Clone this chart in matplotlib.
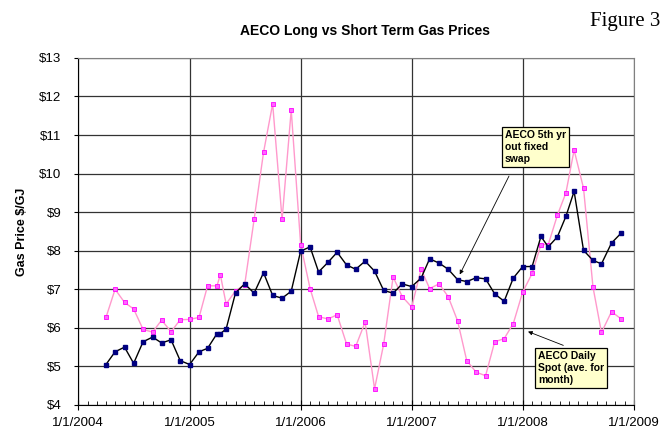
import matplotlib
matplotlib.use('Agg')
import matplotlib.pyplot as plt
import matplotlib.dates as mdates
from matplotlib.ticker import FuncFormatter, MultipleLocator
import pandas as pd

plt.rcParams['font.family'] = ['Liberation Sans', 'DejaVu Sans']

# AECO 5th yr out fixed swap (black line)
swap_dates = ["2004-04-01", "2004-05-01", "2004-06-01", "2004-07-01", "2004-08-01",
              "2004-09-01", "2004-10-01", "2004-11-01", "2004-12-01", "2005-01-01",
              "2005-02-01", "2005-03-01", "2005-04-01", "2005-04-12", "2005-05-01",
              "2005-06-01", "2005-07-01", "2005-08-01", "2005-09-01", "2005-10-01",
              "2005-11-01", "2005-12-01", "2006-01-01", "2006-02-01", "2006-03-01",
              "2006-04-01", "2006-05-01", "2006-06-01", "2006-07-01", "2006-08-01",
              "2006-09-01", "2006-10-01", "2006-11-01", "2006-12-01", "2007-01-01",
              "2007-02-01", "2007-03-01", "2007-04-01", "2007-05-01", "2007-06-01",
              "2007-07-01", "2007-08-01", "2007-09-01", "2007-10-01", "2007-11-01",
              "2007-12-01", "2008-01-01", "2008-02-01", "2008-03-01", "2008-03-25",
              "2008-04-24", "2008-05-22", "2008-06-18", "2008-07-19", "2008-08-19",
              "2008-09-16", "2008-10-19", "2008-11-20"]
swap_prices = [5.05, 5.38, 5.50, 5.08, 5.64, 5.76, 5.61, 5.69, 5.15, 5.05,
               5.38, 5.47, 5.85, 5.85, 5.97, 6.91, 7.14, 6.90, 7.43, 6.84,
               6.77, 6.95, 7.99, 8.10, 7.45, 7.70, 7.96, 7.63, 7.52, 7.73,
               7.47, 6.97, 6.90, 7.14, 7.07, 7.29, 7.79, 7.68, 7.52, 7.25,
               7.20, 7.30, 7.27, 6.88, 6.69, 7.29, 7.59, 7.59, 8.37, 8.10,
               8.36, 8.89, 9.54, 8.01, 7.75, 7.66, 8.20, 8.46]

# AECO daily spot, monthly average (pink line)
spot_dates = swap_dates
spot_prices = [6.27, 7.00, 6.66, 6.49, 5.96, 5.89, 6.20, 5.90, 6.21, 6.22,
               6.27, 7.09, 7.09, 7.38, 6.62, 6.96, 7.12, 8.81, 10.55, 11.81,
               8.81, 11.65, 8.16, 7.02, 6.29, 6.23, 6.34, 5.58, 5.52, 6.15,
               4.42, 5.58, 7.32, 6.81, 6.54, 7.52, 7.02, 7.14, 6.81, 6.18,
               5.15, 4.85, 4.76, 5.64, 5.72, 6.11, 6.93, 7.41, 8.16, 8.16,
               8.92, 9.50, 10.61, 9.62, 7.06, 5.88, 6.42, 6.23]

swap_x = pd.to_datetime(swap_dates)
spot_x = pd.to_datetime(spot_dates)

fig = plt.figure(figsize=(6.72, 4.32), dpi=100)
ax = fig.add_axes([0.1165, 0.0625, 0.827, 0.8035])

ax.plot(spot_x, spot_prices, color='#ff99cc', lw=1.0, marker='s', ms=3,
        mfc='#ff66ff', mec='#ff00ff', mew=0.6, zorder=3)
ax.plot(swap_x, swap_prices, color='black', lw=1.0, marker='s', ms=3,
        mfc='#000080', mec='#000080', zorder=4)

ax.set_xlim(pd.Timestamp("2004-01-01"), pd.Timestamp("2009-01-01"))
ax.set_ylim(4, 13)
ax.yaxis.set_major_locator(MultipleLocator(1))
ax.yaxis.set_major_formatter(FuncFormatter(lambda v, p: "$%d" % v))
ax.xaxis.set_major_locator(mdates.YearLocator())
ax.xaxis.set_minor_locator(mdates.MonthLocator())
ax.xaxis.set_major_formatter(FuncFormatter(
    lambda v, p: "{d.month}/{d.day}/{d.year}".format(d=mdates.num2date(v))))

ax.grid(True, which='major', color='#333333', lw=0.9)
for s in ax.spines.values():
    s.set_color('#808080')
ax.spines['left'].set_color('black')
ax.spines['bottom'].set_color('black')

ax.tick_params(axis='x', which='major', direction='inout', length=7, labelsize=9.5, pad=5)
ax.tick_params(axis='x', which='minor', direction='in', length=3)
ax.tick_params(axis='y', which='major', direction='out', length=3, labelsize=9.5, pad=9)

ax.set_ylabel("Gas Price $/GJ", fontsize=9, fontweight='bold', labelpad=8)
fig.text(0.543, 0.928, "AECO Long vs Short Term Gas Prices", ha='center', va='center',
         fontsize=10, fontweight='bold')
fig.text(0.983, 0.95, "Figure 3", ha='right', va='center', fontsize=15,
         family=['Liberation Serif', 'DejaVu Serif'])

box = dict(boxstyle='square,pad=0.3', fc='#ffffcc', ec='black', lw=0.9)
ax.text(pd.Timestamp("2007-11-03"), 11.13, "AECO 5th yr\nout fixed\nswap",
        ha='left', va='top', fontsize=7.5, fontweight='bold', bbox=box,
        linespacing=1.25, zorder=6)
ax.annotate('', xy=(pd.Timestamp("2007-06-04"), 7.32),
            xytext=(pd.Timestamp("2007-11-21"), 10.0),
            arrowprops=dict(arrowstyle='-|>', color='black', lw=0.6,
                            mutation_scale=6), zorder=5)

ax.text(pd.Timestamp("2008-02-20"), 5.4, "AECO Daily\nSpot (ave. for\nmonth)",
        ha='left', va='top', fontsize=7.5, fontweight='bold', bbox=box,
        linespacing=1.25, zorder=6)
ax.annotate('', xy=(pd.Timestamp("2008-01-10"), 5.93),
            xytext=(pd.Timestamp("2008-05-22"), 5.52),
            arrowprops=dict(arrowstyle='-|>', color='black', lw=0.6,
                            mutation_scale=6), zorder=5)

plt.savefig("out.png", dpi=100)
